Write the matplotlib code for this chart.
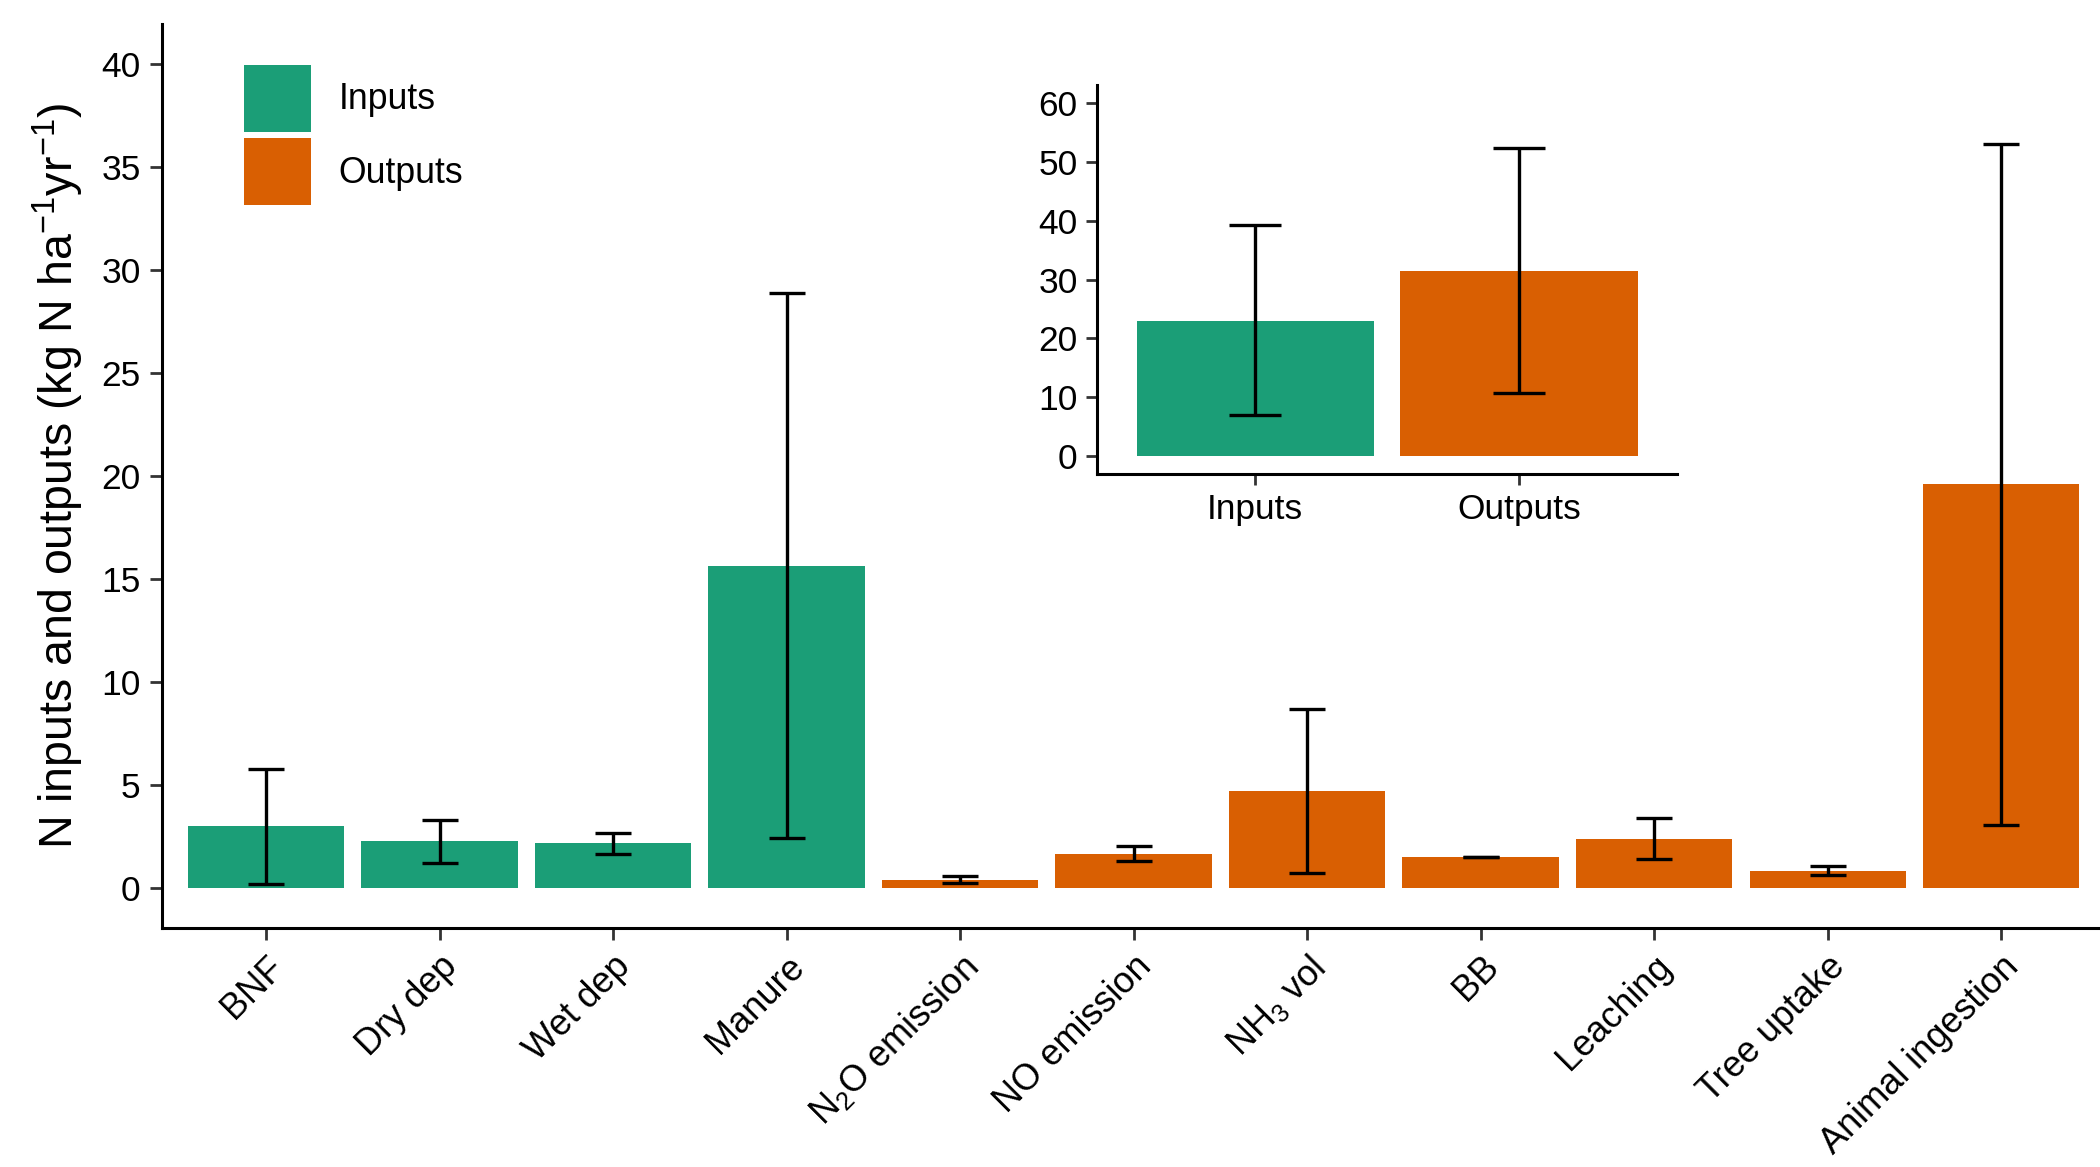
import matplotlib
matplotlib.use("Agg")
import matplotlib.pyplot as plt
from matplotlib.patches import Patch
import numpy as np

# ---- data ----
categories = ["BNF", "Dry dep", "Wet dep", "Manure",
              r"N$\mathregular{_2}$O emission", "NO emission",
              r"NH$\mathregular{_3}$ vol", "BB", "Leaching",
              "Tree uptake", "Animal ingestion"]
groups = ["Inputs", "Inputs", "Inputs", "Inputs",
          "Outputs", "Outputs", "Outputs", "Outputs", "Outputs",
          "Outputs", "Outputs"]
means = [3.00, 2.26, 2.20, 15.65, 0.40, 1.65, 4.70, 1.50, 2.40, 0.84, 19.6]
err_low = [0.18, 1.20, 1.66, 2.44, 0.25, 1.30, 0.74, 1.50, 1.40, 0.62, 3.05]
err_high = [5.80, 3.30, 2.68, 28.9, 0.58, 2.02, 8.67, 1.52, 3.41, 1.06, 36.1]

inset_cats = ["Inputs", "Outputs"]
inset_means = [23.0, 31.5]
inset_low = [6.9, 10.7]
inset_high = [39.2, 52.3]

yticks_main = [0, 5, 10, 15, 20, 25, 30, 35, 40]
yticks_inset = [0, 10, 20, 30, 40, 50, 60]

colors = {"Inputs": "#1B9E77", "Outputs": "#D95F02"}

# ---- style ----
plt.rcParams["font.family"] = ["Liberation Sans", "DejaVu Sans"]
plt.rcParams["mathtext.fontset"] = "custom"
plt.rcParams["mathtext.rm"] = "Liberation Sans"
plt.rcParams["mathtext.it"] = "Liberation Sans:italic"
plt.rcParams["mathtext.bf"] = "Liberation Sans:bold"

fig = plt.figure(figsize=(21, 11.67), dpi=100)
ax = fig.add_axes([0.0771, 0.2048, 0.9229, 0.7746])

x = np.arange(1, len(categories) + 1)
bar_colors = [colors[g] for g in groups]
ax.bar(x, means, width=0.9, color=bar_colors, edgecolor="none", zorder=2)
m = np.array(means)
yerr = np.vstack([m - np.array(err_low), np.array(err_high) - m])
ax.errorbar(x, means, yerr=yerr, fmt="none", ecolor="black",
            elinewidth=2.4, capsize=12.8, capthick=2.4, zorder=3)

ax.set_xlim(0.4, 11.57)
ax.set_ylim(-1.94, 41.94)
ax.set_yticks(yticks_main)
ax.set_xticks(x)
ax.set_xticklabels(categories, rotation=45, ha="right", va="top",
                   rotation_mode="anchor")
for s in ["top", "right"]:
    ax.spines[s].set_visible(False)
for s in ["left", "bottom"]:
    ax.spines[s].set_linewidth(2.2)
ax.tick_params(axis="both", length=8.3, width=2.0, color="#333333",
               labelcolor="black", pad=7)
ax.tick_params(axis="y", labelsize=25.5)
ax.tick_params(axis="x", labelsize=26)
ax.set_ylabel(r"N inputs and outputs (kg N ha$^{-1}$yr$^{-1}$)",
              fontsize=33.5, labelpad=11)

handles = [Patch(facecolor=colors["Inputs"], edgecolor="none", label="Inputs"),
           Patch(facecolor=colors["Outputs"], edgecolor="none", label="Outputs")]
leg = ax.legend(handles=handles, loc="upper left",
                bbox_to_anchor=(0.0425, 0.955), frameon=False, fontsize=25.7,
                handlelength=1.88, handleheight=2.51, labelspacing=0.19,
                handletextpad=0.76, borderaxespad=0, borderpad=0)

# ---- inset ----
ax2 = fig.add_axes([0.5224, 0.5938, 0.2762, 0.3333])
xi = np.arange(1, len(inset_cats) + 1)
ax2.bar(xi, inset_means, width=0.9, color=[colors[c] for c in inset_cats],
        edgecolor="none", zorder=2)
im = np.array(inset_means)
yerr2 = np.vstack([im - np.array(inset_low), np.array(inset_high) - im])
ax2.errorbar(xi, inset_means, yerr=yerr2, fmt="none", ecolor="black",
             elinewidth=2.4, capsize=18.5, capthick=2.4, zorder=3)
ax2.set_xlim(0.4, 2.6)
ax2.set_ylim(-3.06, 63.06)
ax2.set_yticks(yticks_inset)
ax2.set_xticks(xi)
ax2.set_xticklabels(inset_cats)
for s in ["top", "right"]:
    ax2.spines[s].set_visible(False)
for s in ["left", "bottom"]:
    ax2.spines[s].set_linewidth(2.2)
ax2.tick_params(axis="both", length=8.0, width=2.0, color="#333333",
                labelsize=25.5, labelcolor="black", pad=6)

fig.savefig("out.png", dpi=100)
